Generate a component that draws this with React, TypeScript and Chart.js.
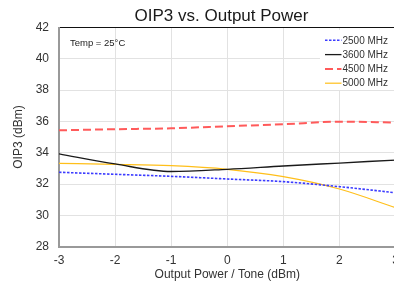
import React, { useEffect, useRef } from "react";
import { Chart, registerables } from "chart.js";

Chart.register(...registerables);

const xValues = [-3, -2, -1, 0, 1, 2, 3];
const s2500 = [32.75, 32.62, 32.49, 32.32, 32.15, 31.83, 31.44];
const s3600 = [33.93, 33.28, 32.8, 32.94, 33.15, 33.34, 33.53];
const s4500 = [35.43, 35.5, 35.56, 35.69, 35.82, 35.98, 35.93];
const s5000 = [33.32, 33.26, 33.17, 32.94, 32.47, 31.68, 30.49];
const seriesLabels = ["2500 MHz", "3600 MHz", "4500 MHz", "5000 MHz"];
const titleText = "OIP3 vs. Output Power";
const xTitle = "Output Power / Tone (dBm)";
const yTitle = "OIP3 (dBm)";
const noteText = "Temp = 25°C";

const FONT = "'Liberation Sans', Arial, Helvetica, sans-serif";

const toPoints = (ys: number[]) => ys.map((y, i) => ({ x: xValues[i], y }));

const overlayPlugin = {
  id: "overlay",
  afterDatasetsDraw(chart: any) {
    const { ctx, chartArea } = chart;
    ctx.save();
    // note
    ctx.font = `9.5px ${FONT}`;
    ctx.fillStyle = "#222";
    ctx.textBaseline = "middle";
    ctx.textAlign = "left";
    ctx.fillText(noteText, chartArea.left + 11, chartArea.top + 15.5);
    // legend box
    ctx.fillStyle = "#ffffff";
    ctx.fillRect(320, chartArea.top + 2.5, 90, 60);
    chart.data.datasets.forEach((ds: any, i: number) => {
      const y = chartArea.top + 12.8 + i * 14.3;
      ctx.beginPath();
      ctx.strokeStyle = ds.borderColor;
      ctx.lineWidth = ds.borderWidth;
      ctx.setLineDash(ds.borderDash || []);
      ctx.moveTo(325, y);
      ctx.lineTo(341.5, y);
      ctx.stroke();
      ctx.setLineDash([]);
      ctx.font = `10px ${FONT}`;
      ctx.fillStyle = "#333";
      ctx.textBaseline = "middle";
      ctx.fillText(ds.label, 342.5, y + 0.5);
    });
    ctx.restore();
  },
};

export default function App() {
  const ref = useRef<HTMLCanvasElement | null>(null);
  useEffect(() => {
    if (!ref.current) return;
    const chart = new Chart(ref.current, {
      type: "line",
      data: {
        datasets: [
          {
            label: seriesLabels[0],
            data: toPoints(s2500),
            borderColor: "#3c3cff",
            borderWidth: 1.6,
            borderDash: [2.5, 1.5],
            pointRadius: 0,
            cubicInterpolationMode: "monotone",
          },
          {
            label: seriesLabels[1],
            data: toPoints(s3600),
            borderColor: "#1a1a1a",
            borderWidth: 1.3,
            pointRadius: 0,
            cubicInterpolationMode: "monotone",
          },
          {
            label: seriesLabels[2],
            data: toPoints(s4500),
            borderColor: "#ff5a5a",
            borderWidth: 2,
            borderDash: [8, 4],
            pointRadius: 0,
            cubicInterpolationMode: "monotone",
          },
          {
            label: seriesLabels[3],
            data: toPoints(s5000),
            borderColor: "#ffbf1a",
            borderWidth: 1.2,
            pointRadius: 0,
            cubicInterpolationMode: "monotone",
          },
        ],
      },
      options: {
        responsive: false,
        animation: false,
        devicePixelRatio: 1,
        layout: { padding: 0 },
        plugins: {
          legend: { display: false },
          tooltip: { enabled: false },
          title: {
            display: true,
            text: titleText,
            color: "#1a1a1a",
            font: { family: FONT, size: 17, weight: "normal" },
            padding: { top: 6, bottom: 1.1 },
          },
        },
        scales: {
          x: {
            type: "linear",
            min: -3,
            max: 3,
            ticks: {
              stepSize: 1,
              color: "#333",
              font: { family: FONT, size: 12 },
              padding: 7,
              maxRotation: 0,
            },
            grid: { color: "#e2e2e2", drawTicks: false, lineWidth: 1 },
            border: { color: "#999", width: 2 },
            title: {
              display: true,
              text: xTitle,
              color: "#333",
              font: { family: FONT, size: 12 },
              padding: { top: 0, bottom: 0 },
            },
            afterFit: (scale: any) => {
              scale.height = 35.4;
            },
          },
          y: {
            min: 28,
            max: 42,
            ticks: {
              stepSize: 2,
              color: "#333",
              font: { family: FONT, size: 12 },
              padding: 10,
            },
            grid: {
              color: (c: any) => (c.tick && c.tick.value === 42 ? "#111" : "#e2e2e2"),
              drawTicks: false,
              lineWidth: 1,
            },
            border: { color: "#999", width: 2 },
            title: {
              display: true,
              text: yTitle,
              color: "#333",
              font: { family: FONT, size: 12 },
              padding: { top: 11.3, bottom: 0 },
            },
            afterFit: (scale: any) => {
              scale.width = 59;
            },
          },
          y2: {
            position: "right",
            min: 28,
            max: 42,
            ticks: { display: false },
            grid: { display: false, drawTicks: false },
            border: { display: false },
            afterFit: (scale: any) => {
              scale.width = 47.5;
            },
          },
        },
      },
      plugins: [overlayPlugin],
    } as any);
    return () => chart.destroy();
  }, []);
  return (
    <div
      style={{
        position: "fixed",
        left: 0,
        top: 0,
        width: 394,
        height: 282,
        overflow: "hidden",
        background: "#fff",
      }}
    >
      <canvas ref={ref} width={443} height={282} style={{ width: 443, height: 282, display: "block" }} />
    </div>
  );
}
